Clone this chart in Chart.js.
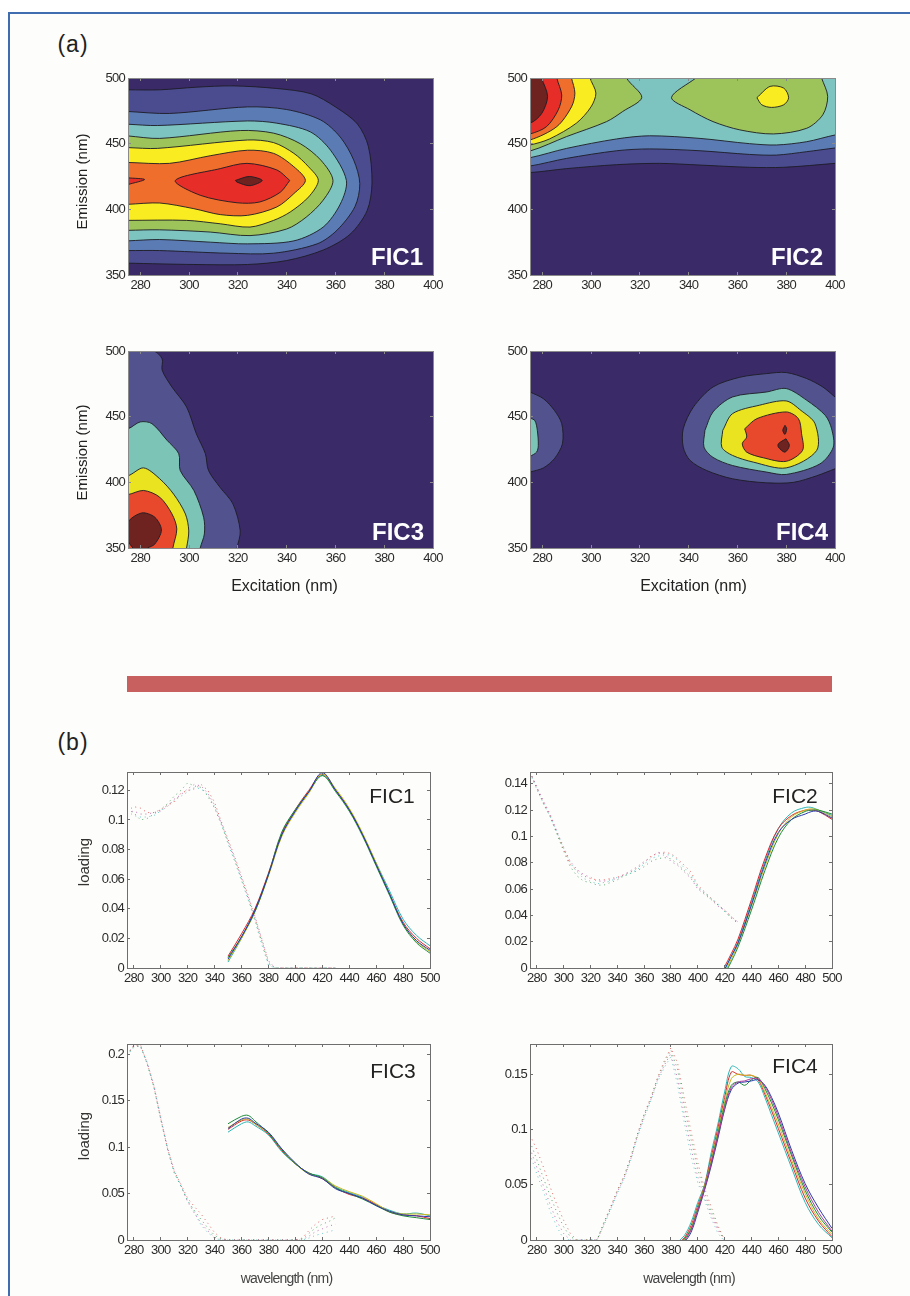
<!DOCTYPE html>
<html lang="en">
<head>
<meta charset="UTF-8">
<title>FIC contour maps and loadings</title>
<script src="https://cdn.jsdelivr.net/npm/chart.js"></script>
<style>
  html, body { margin: 0; padding: 0; width: 910px; height: 1296px; overflow: hidden; background: #fff; }
  #sheet { position: absolute; left: 8px; top: 12px; width: 902px; height: 1284px; box-sizing: border-box;
           border-left: 2px solid #3f6db0; border-top: 2px solid #3f6db0; background: #fdfdfb; }
  canvas { position: absolute; }
  #bar { position: absolute; left: 127px; top: 676px; width: 705px; height: 16px; background: #c8605f; }
  .tag { position: absolute; transform: translate(-50%, -50%); font-family: "Liberation Sans", Arial, sans-serif; white-space: nowrap; }
  .part { font-size: 23px; letter-spacing: 1px; color: #222; }
  .inmap { font-size: 24px; font-weight: bold; color: #fff; }
  .inline { font-size: 21px; color: #222; }
</style>
</head>
<body>
<div id="sheet"></div>
<div id="bar"></div>
<div class="tag part" style="left:73px;top:44px">(a)</div>
<div class="tag part" style="left:73px;top:742px">(b)</div>

<script>
// contour colours, outer level to inner
const levelColors = ['#4b4b90', '#5b7bb5', '#7dc4c0', '#9dc45a', '#f9ec20', '#f06e2b', '#e62d28', '#6f2320'];
const fic34Colors = ['#52528f', '#7cc4b6', '#e9e320', '#e8482b', '#6f2320'];
const mapBase = '#3b2a68';
const mapRect = [[263, 515], [262, 340], [412, 340], [412, 515]];

// FIC1 excitation/emission contours
const fic1L1 = [[275,491],[288,491],[303,493],[318,494],[336,492],[350,488],[360,478],[369,465],[373.5,448],[375,420],[373,399],[366,381],[355,369],[340,361],[324,358],[302,358],[275,359]];
const fic1L2 = [[275,474.5],[292,473],[324,478],[340,476],[354,468],[362,455],[367.5,437.5],[370,419.6],[368,402],[360.6,384],[352.5,373.7],[334.7,366.6],[315.6,366.6],[288,368.6],[275,368.6]];
const fic1L3 = [[275,464.8],[287,463.8],[324,467.3],[336,465.6],[349.7,459],[358,445],[364.5,422],[362,404],[355,386.5],[343,376],[324,373.7],[308.7,375],[288,377],[275,376]];
const fic1L4 = [[275,455.9],[288,454],[321,460],[334.7,458],[345.6,450],[354,437.5],[359,422],[355,407],[348,394],[340,385],[325,380],[308.7,382.7],[288,384.4],[275,384]];
const fic1L5 = [[275,447],[287,446.4],[324,452.8],[334.7,450.8],[343,442.6],[349,432.4],[353,422],[349,409.4],[341.5,398],[334.7,391.6],[325,386.5],[312.8,389],[299,391.6],[275,391.6]];
const fic1L6 = [[275,435.7],[292,435],[308.7,440.8],[324,445],[334.7,442.6],[343,432.4],[347.7,422],[343,412],[336,401.8],[324,395.4],[312.8,396],[302,400.5],[288,404.8],[275,403.8]];
const fic1L7a = [[341.3,422],[336,430],[323.8,435],[312.8,431],[294.4,422],[304.6,410.7],[319.7,405],[329,405.6],[337.4,413],[341.3,422]];
const fic1L7b = [[275,424],[281.8,422.7],[275,418.9]];
const fic1L8 = [[319,422],[324.7,425],[330,422],[325,418],[319.7,420.7],[319,422]];

// FIC2 contours
const fic2L1 = [[263,515],[262,428],[275,428],[290,431],[310.5,434],[328,435],[344.7,433.7],[365,432],[379,432],[400,435],[412,437],[412,515]];
const fic2L2 = [[263,515],[262,431],[275,433],[290,438.8],[310.5,444.6],[324,446],[344.7,444.6],[365,441.8],[376,441.3],[388.4,443.9],[400,446.7],[412,449],[412,515]];
const fic2L3 = [[263,515],[262,436],[275,439.3],[290,446.4],[310.5,453.6],[324,456],[344.7,454],[365,450],[376,449],[388.4,451.5],[400,456.6],[412,460],[412,515]];
const fic2L4a = [[263,515],[262,441],[275,444.4],[290,455.4],[306.4,466.8],[313,474.5],[320.8,485.2],[314.6,500],[313,515]];
const fic2L4b = [[343,500],[333,485.2],[340.6,475.8],[350,466.8],[361,460.5],[374.7,457.4],[388.4,461.7],[395,472],[397,486],[394.5,500]];
const fic2L5a = [[263,515],[262,445],[275,449],[283,453.6],[294,465.6],[300,478],[302,488.5],[299.6,500],[298,515]];
const fic2L5b = [[368,485],[373.4,493.6],[379,492.3],[381,485],[379,479.6],[374,477.6],[370,479.6],[368,485]];
const fic2L6 = [[263,515],[262,449],[275,452.8],[286,463],[292,478],[293.4,488.5],[292,500],[290,515]];
const fic2L7 = [[263,515],[262,453],[275,457.4],[281.8,463],[286.6,475.8],[288,487],[286,500],[285,515]];
const fic2L8 = [[263,515],[262,462],[275,465.6],[279.8,473],[282.2,486],[279.8,500],[278,515]];

// FIC3 contours
const fic3L1 = [[263,340],[262,505],[285.5,500],[289,494],[289,485.4],[293,472.6],[299,457.4],[303,437],[306.7,421.8],[308,409],[312.8,396],[318,383.6],[321,363],[319.7,350],[319,340]];
const fic3L2 = [[263,340],[262,436],[275,440.8],[280,446],[284.8,444.7],[291,432],[295.8,421.8],[296.4,409],[302,393.8],[306,373.4],[306.3,360.7],[304.6,350],[304,340]];
const fic3L3 = [[263,340],[262,401],[275,405],[281.4,411],[288,402.7],[293.7,391],[298.5,376],[299.9,363],[299,350],[298,340]];
const fic3L4 = [[263,340],[262,389],[275,390.7],[281.4,393.8],[288,388.7],[293,376],[295,364.5],[293.4,350],[293,340]];
const fic3L5 = [[277,350],[275,355.6],[275,369.6],[280.7,376.7],[286,373.4],[288.7,363.7],[286,353],[283,350]];

// FIC4 contours
const fic4L1a = [[275,468.8],[280.5,463.7],[285,454.8],[288,444.7],[288.3,429.4],[285,418],[280.5,411],[275,407.8]];
const fic4L2a = [[275,449],[277,447],[278,439.6],[278.4,428],[277.7,423],[275,419.7]];
const fic4L1b = [[400,410.3],[392.5,405],[383,400],[372,399.6],[358,402.7],[347.4,409],[340.6,416.7],[337.8,426.8],[337.8,440.8],[342,457.4],[350,472.6],[361,480],[372,482.8],[380,483.6],[388.4,479],[395,472.6],[400,465]];
const fic4L2b = [[346.7,439.6],[350,453.6],[358,465],[372,468.8],[380,471.4],[388.4,462.5],[396,451],[398.6,440.8],[399.3,426.8],[393.8,414],[380,406],[372,407.8],[358,412.8],[350,419],[346.3,426.8],[346.7,439.6]];
const fic4L3b = [[354,439.6],[358,452.3],[369,458.7],[380,462],[386,454.8],[391.8,444.7],[392.5,424.3],[380,411],[366.5,415.4],[358,420.5],[353.6,426.8],[354,439.6]];
const fic4L4b = [[363,440.8],[368,448.5],[380,453.6],[385,448.5],[386.3,437],[386.7,424.3],[380,416],[370.6,418.7],[363.8,423],[362,429.4],[363.8,434.5],[363,440.8]];
const fic4L5a = [[379.5,443.4],[380.2,440.8],[379.5,436.5],[378.6,439.6],[379.5,443.4]];
const fic4L5b = [[379.9,433.2],[381.3,428],[379.5,423],[376.8,426.8],[376.8,429.4],[379.9,433.2]];

const mapXTicks = [280, 300, 320, 340, 360, 380, 400];
const mapYTicks = [350, 400, 450, 500];

// loadings, excitation dotted and emission solid
const lineColors = ['#2bb5b5', '#d8282c', '#c8b820', '#1c8a3a', '#2a3aa8', '#a83a9a', '#222222'];
const wlTicks = [280, 300, 320, 340, 360, 380, 400, 420, 440, 460, 480, 500];

const fic1ExWl = [275,280,285,290,295,300,305,310,315,320,325,330,335,340,345,350,355,360,365,370,375,380,385,430];
const fic1ExA = [.106,.109,.108,.105,.105,.107,.110,.112,.118,.120,.121,.124,.120,.112,.099,.087,.075,.062,.049,.034,.019,.004,0,0];
const fic1ExB = [.107,.105,.100,.101,.104,.107,.111,.116,.120,.125,.123,.122,.116,.108,.097,.085,.073,.060,.047,.033,.018,.003,0,0];
const fic1ExC = [.105,.106,.104,.104,.105,.106,.109,.114,.117,.121,.124,.123,.118,.110,.098,.086,.074,.061,.048,.035,.020,.005,0,0];
const fic1ExD = [.106,.103,.102,.102,.103,.106,.110,.113,.116,.119,.122,.121,.117,.109,.098,.084,.072,.059,.046,.032,.016,.002,0,0];
const fic1EmWl = [350,360,370,380,390,400,410,420,430,440,450,460,470,480,490,500];
const fic1EmA = [.008,.023,.040,.064,.091,.107,.120,.131,.120,.107,.090,.070,.050,.031,.020,.013];
const fic1EmB = [.007,.021,.038,.063,.092,.107,.119,.130,.119,.106,.089,.069,.049,.029,.017,.010];
const fic1EmC = [.005,.020,.038,.062,.089,.105,.118,.131,.121,.108,.091,.071,.050,.030,.018,.011];
const fic1EmD = [.004,.020,.039,.063,.090,.106,.119,.130,.120,.107,.090,.071,.052,.033,.022,.015];
const fic1EmE = [.006,.021,.039,.063,.090,.106,.119,.132,.120,.107,.090,.070,.050,.030,.0185,.012];
const fic1Ticks = [0, .02, .04, .06, .08, .1, .12];

const fic2ExWl = [275,280,285,290,295,300,305,310,315,320,325,330,335,340,345,350,355,360,365,370,375,380,385,390,395,400,405,410,415,420,425,430];
const fic2ExA = [.149,.137,.126,.116,.103,.090,.079,.074,.070,.068,.067,.067,.068,.069,.071,.073,.076,.080,.085,.087,.088,.087,.083,.078,.073,.063,.058,.053,.048,.044,.039,.034];
const fic2ExB = [.149,.137,.125,.115,.102,.089,.077,.070,.066,.065,.063,.063,.065,.067,.070,.072,.074,.077,.081,.083,.084,.083,.079,.074,.069,.061,.057,.052,.048,.043,.038,.034];
const fic2ExC = [.149,.138,.127,.117,.104,.092,.081,.075,.071,.069,.066,.066,.067,.068,.071,.074,.077,.081,.084,.088,.087,.081,.078,.073,.068,.060,.056,.052,.047,.044,.039,.035];
const fic2ExD = [.148,.136,.125,.115,.103,.091,.080,.073,.068,.066,.064,.065,.066,.069,.070,.072,.075,.079,.083,.085,.086,.086,.082,.076,.071,.062,.057,.053,.049,.043,.038,.034];
const fic2EmWl = [420,425,430,440,450,460,470,480,485,490,500];
const fic2EmA = [-.005,.005,.016,.044,.074,.099,.113,.119,.120,.120,.117];
const fic2EmB = [-.004,.007,.018,.047,.077,.102,.115,.120,.121,.120,.115];
const fic2EmC = [-.002,.009,.020,.050,.081,.106,.118,.122,.122,.120,.116];
const fic2EmD = [-.001,.009,.019,.048,.079,.103,.113,.117,.119,.119,.114];
const fic2EmE = [.001,.011,.022,.052,.083,.106,.116,.120,.120,.119,.113];
const fic2Ticks = [0, .02, .04, .06, .08, .1, .12, .14];

const fic3ExWl = [275,280,285,290,295,300,305,310,315,320,325,330,335,340,345,350,400,405,410,415,420,425,430];
const fic3ExA = [.199,.209,.210,.190,.165,.131,.099,.074,.060,.045,.036,.028,.018,.008,.002,0,0,.002,.010,.017,.022,.024,.026];
const fic3ExB = [.199,.208,.209,.189,.164,.130,.098,.073,.058,.042,.032,.022,.013,.005,.001,0,0,.001,.007,.013,.017,.020,.024];
const fic3ExC = [.200,.209,.208,.191,.166,.132,.100,.075,.059,.041,.029,.018,.010,.003,0,0,0,0,.004,.009,.012,.015,.017];
const fic3ExD = [.198,.207,.209,.190,.165,.131,.098,.072,.058,.043,.030,.016,.008,.002,0,0,0,0,.002,.005,.007,.009,.011];
const fic3EmWl = [350,360,365,370,380,390,400,410,420,430,440,450,460,470,480,490,500];
const fic3EmA = [.116,.125,.127,.123,.113,.095,.082,.072,.068,.057,.051,.046,.038,.032,.028,.029,.026];
const fic3EmB = [.119,.128,.129,.125,.114,.096,.082,.072,.066,.056,.049,.045,.038,.030,.027,.026,.023];
const fic3EmC = [.121,.129,.130,.125,.115,.097,.082,.071,.067,.058,.052,.047,.039,.031,.028,.028,.027];
const fic3EmD = [.125,.133,.134,.128,.115,.097,.082,.072,.067,.056,.050,.044,.037,.030,.026,.024,.022];
const fic3EmE = [.120,.130,.131,.126,.116,.098,.083,.071,.066,.055,.050,.045,.037,.031,.027,.026,.025];
const fic3Ticks = [0, .05, .1, .15, .2];

const fic4ExWl = [275,280,285,290,295,300,305,310,315,320,325,330,335,340,345,350,355,360,365,370,375,380,385,390,395,400,405,410,415,420];
const fic4ExA = [.095,.082,.066,.048,.032,.018,.006,0,0,0,0,.016,.030,.045,.058,.075,.096,.114,.129,.147,.162,.174,.160,.128,.098,.070,.047,.030,.013,0];
const fic4ExB = [.089,.073,.056,.040,.025,.012,.003,0,0,0,0,.015,.029,.044,.057,.074,.095,.113,.128,.146,.160,.172,.154,.121,.091,.064,.043,.026,.011,0];
const fic4ExC = [.083,.066,.049,.032,.017,.006,0,0,0,0,0,.014,.028,.043,.056,.073,.094,.112,.127,.145,.158,.169,.146,.113,.083,.057,.039,.023,.009,0];
const fic4ExD = [.078,.060,.044,.026,.012,.001,0,0,0,0,0,.013,.027,.042,.055,.072,.093,.110,.126,.143,.156,.166,.140,.106,.076,.052,.036,.020,.006,-.001];
const fic4EmWl = [385,390,395,400,405,410,415,420,425,430,435,440,445,450,455,460,470,480,490,500];
const fic4EmA = [-.002,.004,.016,.034,.050,.079,.105,.134,.157,.155,.148,.147,.143,.129,.113,.097,.065,.034,.014,.002];
const fic4EmB = [-.004,.002,.013,.031,.049,.075,.101,.129,.152,.150,.149,.149,.145,.132,.117,.101,.069,.038,.017,.003];
const fic4EmC = [-.006,.000,.011,.029,.048,.072,.098,.125,.146,.150,.149,.149,.146,.134,.120,.105,.072,.042,.019,.005];
const fic4EmD = [-.005,.001,.010,.028,.047,.070,.096,.122,.140,.143,.140,.145,.147,.137,.124,.109,.076,.045,.022,.007];
const fic4EmE = [-.008,-.002,.007,.025,.045,.067,.092,.118,.136,.142,.143,.144,.145,.140,.129,.115,.081,.051,.029,.0105];
const fic4EmF = [-.007,-.001,.009,.027,.046,.069,.094,.119,.138,.143,.144,.146,.146,.139,.127,.112,.078,.048,.025,.008];
const fic4Ticks = [0, .05, .1, .15];

const fontFamily = '"Liberation Sans", Arial, sans-serif';
const tickFont = { family: fontFamily, size: 13 };

function polygon(points, color, stroke) {
  return {
    data: points.map(p => ({ x: p[0], y: p[1] })),
    showLine: true, fill: 'shape', backgroundColor: color,
    borderColor: stroke ? '#1c1c24' : color, borderWidth: stroke ? 0.9 : 0,
    pointRadius: 0, tension: 0.3
  };
}

function curve(xs, ys, color, dotted) {
  return {
    data: xs.map((x, i) => ({ x: x, y: ys[i] })),
    showLine: true, fill: false, borderColor: dotted ? color + 'b0' : color, pointRadius: 0,
    borderWidth: 1,
    borderDash: dotted ? [1, 3.8] : [],
    tension: dotted ? 0 : 0.35
  };
}

// the source figure uses a condensed face, squeeze the canvas text to match
function squeeze(scale, method, spacing, dx, dy) {
  const original = scale[method];
  scale[method] = function (area) {
    const ctx = this.ctx;
    ctx.save();
    ctx.letterSpacing = spacing;
    ctx.translate(dx, dy);
    original.call(this, area);
    ctx.restore();
  };
}

function makeAxis(pos, size, cfg, ticks, labelled, title, frame) {
  const isX = pos === 'top' || pos === 'bottom';
  const axis = {
    type: 'linear', position: pos, axis: isX ? 'x' : 'y',
    min: isX ? cfg.xMin : cfg.yMin, max: isX ? cfg.xMax : cfg.yMax,
    afterBuildTicks: s => { s.ticks = ticks.map(v => ({ value: v })); },
    afterFit: s => {
      if (isX) s.height = size; else s.width = size;
      s.paddingLeft = s.paddingRight = s.paddingTop = s.paddingBottom = 0;
      if (!s.squeezed) {
        s.squeezed = true;
        squeeze(s, 'drawLabels', '-0.75px', 0, 0);
        // titles sit off centre in the source
        if (title) squeeze(s, 'drawTitle', title.spacing || '0px', isX ? title.shift : 0, isX ? 0 : title.shift);
      }
    },
    grid: { drawOnChartArea: false, tickLength: -3, tickColor: frame, z: 1 },
    border: { display: true, color: frame, width: 1, z: 1 },
    ticks: {
      display: labelled, autoSkip: false, maxRotation: 0, minRotation: 0, padding: 6,
      color: '#2b2b2b', font: tickFont, callback: v => String(v)
    }
  };
  if (title) axis.title = { display: true, text: title.text, color: title.color, font: { family: fontFamily, size: title.size }, padding: { top: title.pad, bottom: 0 } };
  return axis;
}

function drawPanel(cfg) {
  const L = 54, R = 14, T = 8, B = 48;
  const canvas = document.createElement('canvas');
  canvas.width = L + cfg.w + R;
  canvas.height = T + cfg.h + B;
  canvas.style.left = (cfg.left - L) + 'px';
  canvas.style.top = (cfg.top - T) + 'px';
  canvas.style.width = canvas.width + 'px';
  canvas.style.height = canvas.height + 'px';
  document.body.appendChild(canvas);

  new Chart(canvas.getContext('2d'), {
    type: 'scatter',
    // first dataset is painted last, so flip the back-to-front list
    data: { datasets: cfg.datasets.slice().reverse() },
    options: {
      responsive: false, animation: false, events: [],
      layout: { padding: 0 },
      plugins: { legend: { display: false }, tooltip: { enabled: false } },
      scales: {
        x: makeAxis('bottom', B, cfg, cfg.xTicks, true, cfg.xTitle, cfg.frame),
        y: makeAxis('left', L, cfg, cfg.yTicks, true, cfg.yTitle, cfg.frame),
        x2: makeAxis('top', T, cfg, cfg.xTicks, false, null, cfg.frame),
        y2: makeAxis('right', R, cfg, cfg.yTicks, false, null, cfg.frame)
      }
    }
  });

  const tag = document.createElement('div');
  tag.className = 'tag ' + cfg.tagClass;
  tag.textContent = cfg.name;
  tag.style.left = cfg.tagX + 'px';
  tag.style.top = cfg.tagY + 'px';
  document.body.appendChild(tag);
}

// xShift / yShift: null means the panel has no title on that axis
function mapPanel(name, left, top, tagX, tagY, levels, colors, xShift, yShift) {
  drawPanel({
    name: name, left: left, top: top, w: 305, h: 197, tagX: tagX, tagY: tagY, tagClass: 'inmap',
    xMin: 275, xMax: 400, yMin: 350, yMax: 500, xTicks: mapXTicks, yTicks: mapYTicks, frame: '#8a8a8a',
    xTitle: xShift !== null ? { text: 'Excitation (nm)', color: '#222', size: 16, pad: 6, shift: xShift } : null,
    yTitle: yShift !== null ? { text: 'Emission (nm)', color: '#222', size: 15, pad: 0, shift: yShift } : null,
    datasets: [polygon(mapRect, mapBase, false)].concat(levels.map(l => polygon(l[1], colors[l[0]], true)))
  });
}

function linePanel(name, left, top, w, tagX, tagY, yMax, yTicks, exWl, exSeries, emWl, emSeries, xShift, yShift) {
  drawPanel({
    name: name, left: left, top: top, w: w, h: 196, tagX: tagX, tagY: tagY, tagClass: 'inline',
    xMin: 275, xMax: 500, yMin: 0, yMax: yMax, xTicks: wlTicks, yTicks: yTicks, frame: '#6e6e6e',
    xTitle: xShift !== null ? { text: 'wavelength (nm)', color: '#444', size: 14, pad: 0, spacing: '-0.8px', shift: xShift } : null,
    yTitle: yShift !== null ? { text: 'loading', color: '#333', size: 15, pad: 3, shift: yShift } : null,
    datasets: exSeries.map((s, i) => curve(exWl, s, lineColors[(i * 2 + 1) % 7], true))
      .concat(emSeries.map((s, i) => curve(emWl, s, lineColors[i % 7], false)))
  });
}

mapPanel('FIC1', 128, 78, 397, 257,
  [[0, fic1L1], [1, fic1L2], [2, fic1L3], [3, fic1L4], [4, fic1L5], [5, fic1L6], [6, fic1L7a], [6, fic1L7b], [7, fic1L8]],
  levelColors, null, 5);
mapPanel('FIC2', 530, 78, 797, 257,
  [[0, fic2L1], [1, fic2L2], [2, fic2L3], [3, fic2L4a], [3, fic2L4b], [4, fic2L5a], [4, fic2L5b], [5, fic2L6], [6, fic2L7], [7, fic2L8]],
  levelColors, null, null);
mapPanel('FIC3', 128, 351, 398, 532,
  [[0, fic3L1], [1, fic3L2], [2, fic3L3], [3, fic3L4], [4, fic3L5]],
  fic34Colors, 4, 3);
mapPanel('FIC4', 530, 351, 802, 532,
  [[0, fic4L1a], [1, fic4L2a], [0, fic4L1b], [1, fic4L2b], [2, fic4L3b], [3, fic4L4b], [4, fic4L5a], [4, fic4L5b]],
  fic34Colors, 11, null);

linePanel('FIC1', 127, 772, 303, 392, 796, 0.1324, fic1Ticks, fic1ExWl, [fic1ExA, fic1ExB, fic1ExC, fic1ExD],
  fic1EmWl, [fic1EmD, fic1EmA, fic1EmC, fic1EmB, fic1EmE], null, -8);
linePanel('FIC2', 530, 772, 302, 795, 796, 0.149, fic2Ticks, fic2ExWl, [fic2ExA, fic2ExB, fic2ExC, fic2ExD],
  fic2EmWl, [fic2EmC, fic2EmE, fic2EmB, fic2EmA, fic2EmD], null, null);
linePanel('FIC3', 127, 1044, 303, 393, 1071, 0.2108, fic3Ticks, fic3ExWl, [fic3ExA, fic3ExB, fic3ExC, fic3ExD],
  fic3EmWl, [fic3EmA, fic3EmB, fic3EmC, fic3EmD, fic3EmE], 8, -6);
linePanel('FIC4', 530, 1044, 302, 795, 1066, 0.1774, fic4Ticks, fic4ExWl, [fic4ExA, fic4ExB, fic4ExC, fic4ExD],
  fic4EmWl, [fic4EmA, fic4EmB, fic4EmC, fic4EmD, fic4EmE, fic4EmF], 8, null);
</script>
</body>
</html>
